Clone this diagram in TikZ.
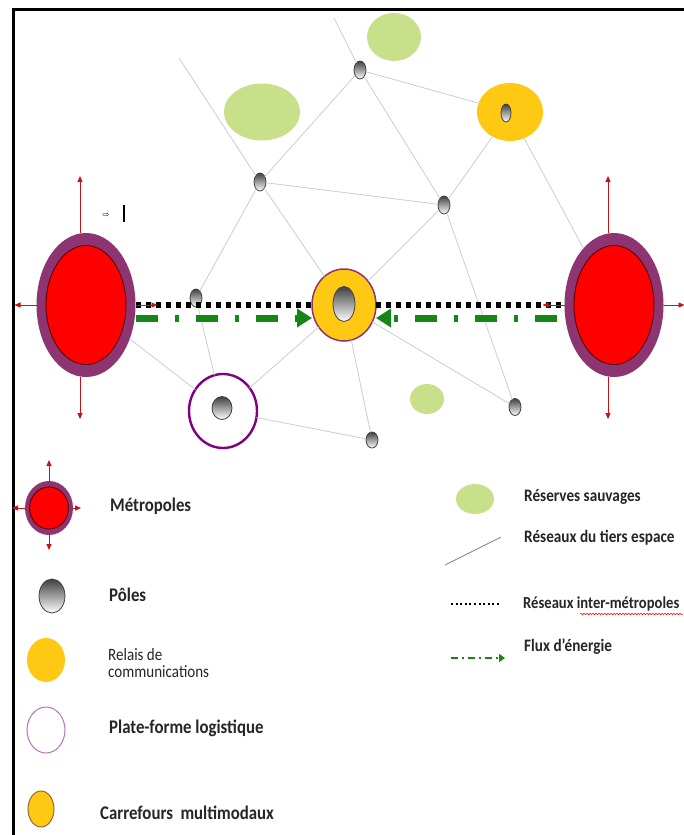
\documentclass[tikz,border=0pt]{standalone}
\usepackage{fontspec}
\setmainfont{Carlito}
\newfontfamily\lgfont[FakeStretch=0.87]{Carlito}
\newfontfamily\symfont{DejaVu Sans}
\usetikzlibrary{shapes.geometric,arrows.meta,decorations.pathmorphing}
\definecolor{metout}{RGB}{142,52,112}
\definecolor{metred}{RGB}{255,0,0}
\definecolor{arrred}{RGB}{196,20,20}
\definecolor{relais}{RGB}{255,200,18}
\definecolor{reserve}{RGB}{200,224,138}
\definecolor{fluxg}{RGB}{22,135,22}
\definecolor{platef}{RGB}{128,0,128}
\definecolor{netg}{RGB}{205,205,205}
\tikzset{
  esize/.style 2 args={minimum width=#1, minimum height=#2},
  base/.style={ellipse, inner sep=0pt, outer sep=0pt},
  metouter/.style={base, fill=metout},
  metinner/.style={base, fill=metred, draw=black!70!red, line width=0.8pt},
  pole/.style={base, draw=black!75, line width=0.8pt, top color=black!75, bottom color=white},
  relaisnode/.style={base, fill=relais},
  carrefour/.style={base, fill=relais, draw=metout, line width=1.5pt},
  platenode/.style={base, fill=white, draw=platef, line width=2.4pt},
  reservenode/.style={base, fill=reserve},
  net/.style={draw=netg, line width=0.8pt},
  redarr/.style={draw=arrred, line width=0.9pt, -{Triangle[length=6pt,width=5pt]}},
  dotline/.style={draw=black, line width=6pt, dash pattern=on 5pt off 5pt},
  flux/.style={draw=fluxg, line width=7pt, dash pattern=on 22pt off 17pt on 4pt off 17pt, -{Triangle[length=15pt,width=18pt]}},
  lbl/.style={anchor=west, inner sep=0pt, font=\lgfont\bfseries\fontsize{19.3}{21}\selectfont, text=black!85},
  rlbl/.style={anchor=west, inner sep=0pt, font=\lgfont\bfseries\fontsize{17.5}{19}\selectfont, text=black!85},
}
\begin{document}
\begin{tikzpicture}[x=1pt,y=-1pt]
\useasboundingbox (0,0) rectangle (684,835);
\fill[white] (0,0) rectangle (684,835);
\draw[line width=3pt] (13,835) -- (13,9) -- (684,9);

% reserves
\node[reservenode, esize={54pt}{48pt}] (R1) at (394,37) {};
\node[reservenode, esize={76pt}{57pt}] (R2) at (262,112) {};
\node[reservenode, esize={34pt}{30pt}] (R3) at (427,399) {};

% metropoles
\node[metouter, esize={99pt}{144pt}] (LM) at (86,305) {};
\node[metinner, esize={80pt}{119pt}] (LMi) at (LM) {};
\node[metouter, esize={99pt}{144pt}] (RM) at (614,305) {};
\node[metinner, esize={80pt}{119pt}] (RMi) at (RM) {};

% relais, carrefour, plate-forme
\node[relaisnode, esize={66pt}{58pt}] (RL) at (510,112) {};
\node[carrefour, esize={64pt}{72pt}] (C) at (344,305) {};
\node[platenode, esize={68pt}{74pt}] (PF) at (223,411) {};

% poles
\node[pole, esize={12pt}{18pt}] (P1) at (360,70) {};
\node[pole, esize={12pt}{18pt}] (P2) at (260,182) {};
\node[pole, esize={12pt}{18pt}] (P3) at (444,205) {};
\node[pole, esize={12pt}{18pt}] (P4) at (196,298) {};
\node[pole, esize={10pt}{18pt}] (P5) at (506,113) {};
\node[pole, esize={20pt}{23pt}] (P6) at (222,408) {};
\node[pole, esize={12pt}{16pt}] (P7) at (372,440) {};
\node[pole, esize={12pt}{17pt}] (P8) at (515,407) {};
\node[pole, esize={22pt}{35pt}] (PC) at (344,304) {};

% network (tiers espace)
\coordinate (t1) at (179,58);
\coordinate (t2) at (334,18);
\draw[net] (t1) -- (P2);
\draw[net] (t2) -- (P1);
\draw[net] (P1) -- (P2);
\draw[net] (P1) -- (P3);
\draw[net] (P1) -- (RL);
\draw[net] (P2) -- (P3);
\draw[net] (P2) -- (C);
\draw[net] (P2) -- (P4);
\draw[net] (P3) -- (RL);
\draw[net] (P3) -- (C);
\draw[net] (P3) -- (P8);
\draw[net] (RL) -- (RM);
\draw[net] (LM) -- (PF);
\draw[net] (P4) -- (PF);
\draw[net] (PF) -- (C);
\draw[net] (PF) -- (P7);
\draw[net] (C) -- (P7);
\draw[net] (C) -- (P8);

% inter-metropoles
\draw[dotline] (LM.east) -- (C.west);
\draw[dotline] (C.east) -- (RM.west);
% flux
\draw[flux] ([yshift=-13pt]LM.east) -- ([yshift=-13pt]C.west);
\draw[flux] ([xshift=-8pt,yshift=-13pt]RM.west) -- ([yshift=-13pt]C.east);

% metropole arrows
\draw[redarr] ([xshift=-6pt]LM.north) -- ++(0,-57);
\draw[redarr] ([xshift=-6pt]LM.south) -- ++(0,42);
\draw[redarr] (LM.west) -- ++(-22,0);
\draw[redarr] (LM.east) -- ++(22,0);
\draw[redarr] ([xshift=-6pt]RM.north) -- ++(0,-57);
\draw[redarr] ([xshift=-6pt]RM.south) -- ++(0,42);
\draw[redarr] (RM.west) -- ++(-22,0);
\draw[redarr] (RM.east) -- ++(21,0);

% small artefact
\node[inner sep=0pt, font=\symfont\fontsize{8}{8}\selectfont] (art) at (106,215) {⇨};
\draw[line width=1.5pt] (124,205) -- (124,222);

% ---------- legend ----------
\node[metouter, esize={48pt}{54pt}] (LgM) at (49,508) {};
\node[metinner, esize={39pt}{42pt}] (LgMi) at (LgM) {};
\draw[redarr] (LgM.north) -- ++(0,-21);
\draw[redarr] (LgM.south) -- ++(0,15);
\draw[redarr] (LgM.west) -- ++(-13,0);
\draw[redarr] (LgM.east) -- ++(8,0);
\node[lbl] (tM) at (110,506) {Métropoles};

\node[pole, esize={26pt}{34pt}] (LgP) at (52,596) {};
\node[lbl] (tP) at (109,595) {Pôles};

\node[relaisnode, esize={38pt}{44pt}] (LgR) at (46,660) {};
\node[anchor=west, inner sep=0pt, align=left, font=\lgfont\fontsize{17.3}{17.5}\selectfont, text=black!85] (tR) at (108,663) {Relais de\\communications};

\node[base, draw=platef!55, line width=1pt, esize={38pt}{46pt}] (LgF) at (46,730) {};
\node[lbl] (tF) at (109,728) {Plate-forme logistique};

\node[base, fill=relais, draw=brown!80!black, line width=1pt, esize={26pt}{36pt}] (LgC) at (41,809) {};
\node[lbl] (tC) at (100,813) {Carrefours\ \ multimodaux};

\node[reservenode, esize={38pt}{30pt}] (LgRs) at (475,499) {};
\node[rlbl] (tRs) at (524,497) {Réserves sauvages};

\coordinate (lt1) at (445,565);
\coordinate (lt2) at (501,537);
\draw[draw=black!45, line width=0.9pt] (lt1) -- (lt2);
\node[rlbl] (tT) at (524,538) {Réseaux du tiers espace};

\coordinate (ld1) at (451,604);
\coordinate (ld2) at (499,604);
\draw[line width=2.2pt, dash pattern=on 2pt off 2.6pt] (ld1) -- (ld2);
\node[rlbl, font=\lgfont\bfseries\fontsize{16.8}{18}\selectfont] (tI) at (523,604) {Réseaux inter-métropoles};
\draw[red, line width=0.5pt, decorate, decoration={snake, amplitude=0.8pt, segment length=3pt}] (580,614) -- (683,614);

\coordinate (lf1) at (451,658);
\coordinate (lf2) at (505,658);
\draw[draw=fluxg, line width=2.5pt, dash pattern=on 7pt off 4pt on 2pt off 4pt, -{Triangle[length=6pt,width=8pt]}] (lf1) -- (lf2);
\node[rlbl] (tFl) at (524,647) {Flux d’énergie};
\end{tikzpicture}
\end{document}
